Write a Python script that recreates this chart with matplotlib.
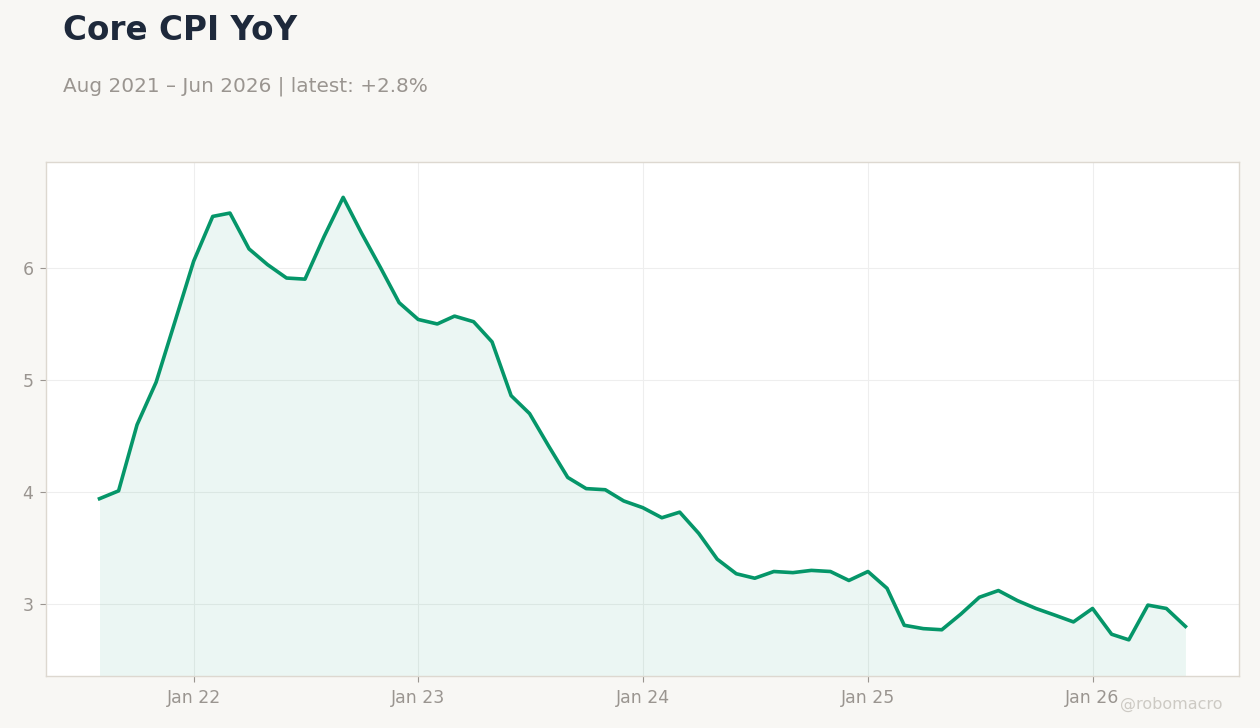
import pandas as pd
import matplotlib
matplotlib.use("Agg")
import matplotlib.pyplot as plt
import matplotlib.dates as mdates

# monthly core CPI yoy, Aug 2021 .. Jun 2026
startMonth = "2021-08-01"
cpiValues = [
  3.94, 4.01, 4.60, 4.98, 5.51,
  6.06, 6.46, 6.49, 6.17, 6.03, 5.91, 5.90, 6.28, 6.63, 6.31, 6.00, 5.69,
  5.54, 5.50, 5.57, 5.52, 5.34, 4.86, 4.70, 4.41, 4.13, 4.03, 4.02, 3.92,
  3.86, 3.77, 3.82, 3.63, 3.40, 3.27, 3.23, 3.29, 3.28, 3.30, 3.29, 3.21,
  3.29, 3.14, 2.81, 2.78, 2.77, 2.91, 3.06, 3.12, 3.03, 2.96, 2.90, 2.84,
  2.96, 2.73, 2.68, 2.99, 2.96, 2.80,
]
yTicks = [3, 4, 5, 6]
titleText = "Core CPI YoY"
subtitleText = "Aug 2021 \u2013 Jun 2026 | latest: +2.8%"
credit = "@robomacro"

months = pd.date_range(startMonth, periods=len(cpiValues), freq="MS")

bgColor = "#f8f7f4"
lineColor = "#059669"
grayText = "#9a9590"

fig = plt.figure(figsize=(12.6, 7.28), dpi=100, facecolor=bgColor)
ax = fig.add_axes([0.0365, 0.0714, 0.9468, 0.7061])
ax.set_facecolor("white")

yLow = 2.357
ax.plot(months, cpiValues, color=lineColor, linewidth=2.6, zorder=3)
ax.fill_between(months, cpiValues, yLow, color=lineColor, alpha=0.08, linewidth=0, zorder=2)

ax.set_ylim(yLow, 6.946)
ax.set_xlim(months[0] - pd.Timedelta(days=87), months[-1] + pd.Timedelta(days=87))
ax.set_yticks(yTicks)
ax.xaxis.set_major_locator(mdates.YearLocator(month=1))
ax.xaxis.set_major_formatter(mdates.DateFormatter("Jan %y"))

ax.grid(True, color="#eeeeee", linewidth=0.8, zorder=0)
ax.set_axisbelow(True)
for s in ax.spines.values():
  s.set_color("#ddd8d0")
  s.set_linewidth(1.0)
ax.tick_params(axis="both", colors="#9a9590", labelcolor=grayText, labelsize=12.5, length=4, width=0.8, pad=5)

fig.text(0.05, 0.945, titleText, fontsize=23.5, fontweight="bold", color="#1e293b", va="baseline")
fig.text(0.05, 0.874, subtitleText, fontsize=14.4, color=grayText, va="baseline")
fig.text(0.97, 0.033, credit, fontsize=11.5, color="#cdcac4", ha="right", va="center")

fig.savefig("out.png", dpi=100, facecolor=bgColor)
